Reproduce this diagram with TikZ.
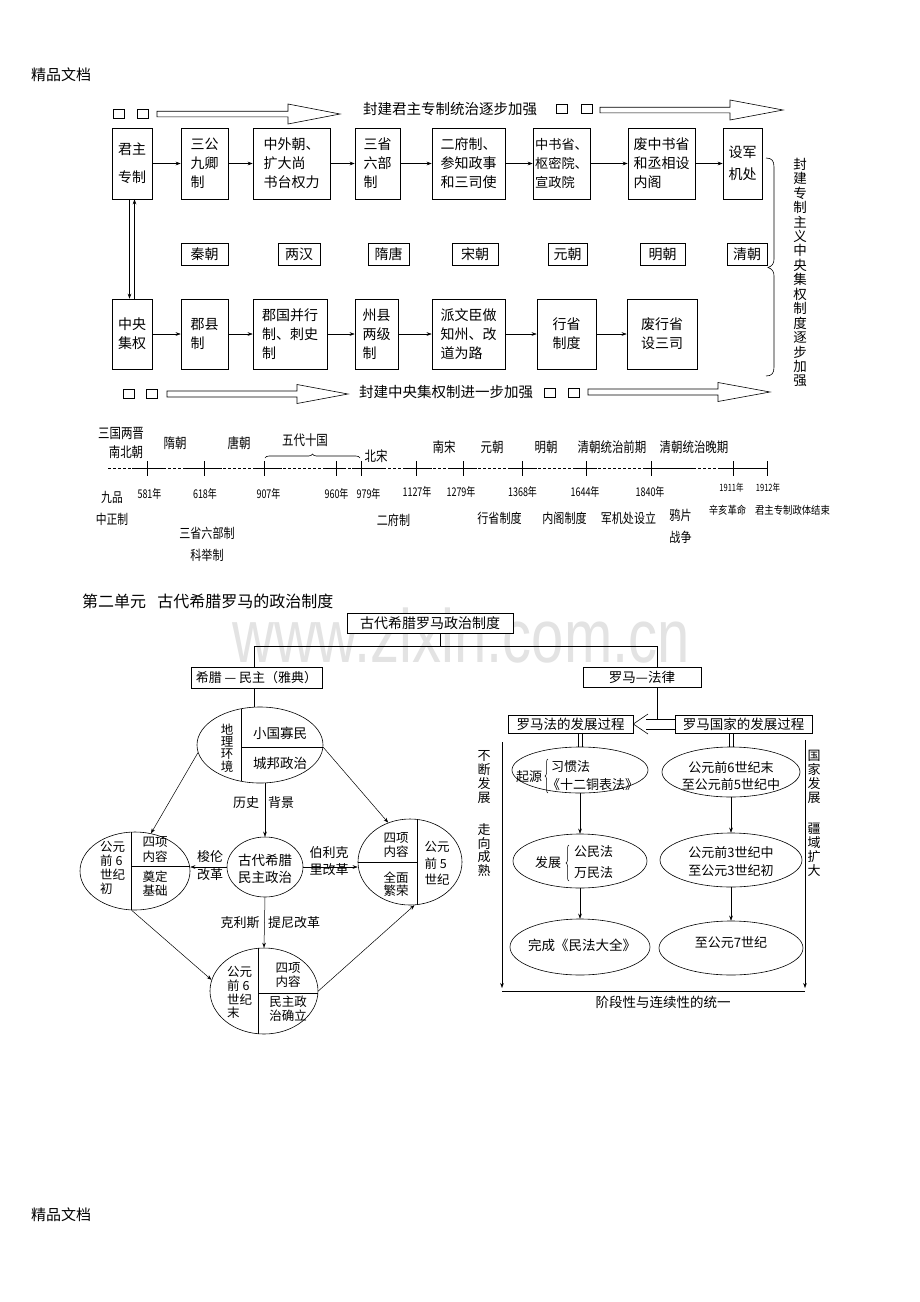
\documentclass[tikz,border=0pt]{standalone}
\usepackage{fontspec}
\setmainfont{Noto Sans CJK SC}
\newfontfamily\wmfont{Liberation Sans}
\usetikzlibrary{arrows.meta,decorations.pathreplacing,shapes.geometric}
\newcommand\myfs[2]{\fontsize{#1}{#2}\selectfont}
\newcommand\cnd[2][0.82]{\scalebox{#1}[1]{#2}}
\begin{document}
\begin{tikzpicture}[x=1pt,y=-1pt,
  box/.style={draw,line width=0.6pt,inner sep=0pt,align=left,font=\myfs{14}{19}},
  dyn/.style={draw,line width=0.6pt,inner sep=0pt,minimum height=22,font=\myfs{14}{16}},
  arr/.style={line width=0.5pt,-{Stealth[length=5pt,width=3.6pt]}},
  ln/.style={line width=0.6pt},
  tl/.style={font=\myfs{14}{15},inner sep=0pt},
  tlb/.style={font=\myfs{13.5}{22},inner sep=0pt,align=center},
  yr/.style={font=\myfs{12}{12},inner sep=0pt},
  lbl/.style={font=\myfs{13}{15},inner sep=0pt},
  ell/.style={draw,ellipse,line width=0.6pt,inner sep=0pt},
  sq/.style={draw,line width=0.5pt,minimum width=11,minimum height=9,inner sep=0pt},
  vt/.style={align=center,inner sep=0pt,font=\myfs{13}{14}},
  rbox/.style={draw,line width=0.6pt,inner sep=0pt,font=\myfs{13.5}{15}},
]
\fill[white] (0,0) rectangle (920,1302);
\useasboundingbox (0,0) rectangle (920,1302);

% watermark
\node[text=black!11,font=\wmfont\fontsize{58}{58}\selectfont,inner sep=0pt] (wmk) at (461,636) {\scalebox{1}[1.3]{www.zixin.com.cn}};

% header / footer
\node[font=\myfs{15}{17},inner sep=0pt] (hdr) at (61,75) {精品文档};
\node[font=\myfs{15}{17},inner sep=0pt] (ftr) at (61,1215) {精品文档};

% ===== top hollow arrows =====
\node[sq] (sqa1) at (119,114) {};
\node[sq] (sqa2) at (143,114) {};
\draw[ln] (157,111.2) -- (288,111.2) -- (288,104) -- (340,114) -- (288,124) -- (288,116.8) -- (157,116.8) -- cycle;
\node[font=\myfs{14.5}{16},inner sep=0pt] (toptxt) at (450,109) {封建君主专制统治逐步加强};
\node[sq] (sqa3) at (562,109) {};
\node[sq] (sqa4) at (587,109) {};
\draw[ln] (600,107.2) -- (730,107.2) -- (730,100) -- (783,110) -- (730,120) -- (730,112.8) -- (600,112.8) -- cycle;

% ===== top row =====
\node[box,minimum width=40,minimum height=71] (t1) at (132,163.5) {君主\\[9pt]专制};
\node[box,minimum width=47,minimum height=71] (t2) at (204.5,163.5) {三公\\九卿\\制};
\node[box,minimum width=77,minimum height=71] (t3) at (291.5,163.5) {中外朝、\\扩大尚\\书台权力};
\node[box,minimum width=45,minimum height=71] (t4) at (377.5,163.5) {三省\\六部\\制};
\node[box,minimum width=73,minimum height=71] (t5) at (468.5,163.5) {二府制、\\参知政事\\和三司使};
\node[box,minimum width=57,minimum height=71,font=\myfs{13.2}{19}] (t6) at (561.5,163.5) {中书省、\\枢密院、\\宣政院};
\node[box,minimum width=67,minimum height=71] (t7) at (661.5,163.5) {废中书省\\和丞相设\\内阁};
\node[box,minimum width=39,minimum height=71] (t8) at (742.5,163.5) {设军\\[3pt]机处};
\foreach \a/\b in {t1/t2,t2/t3,t3/t4,t4/t5,t5/t6,t6/t7,t7/t8}
  \draw[arr] (\a.east) -- (\b.west);

% ===== dynasty row =====
\node[dyn,minimum width=47] (d1) at (204.5,254) {秦朝};
\node[dyn,minimum width=42] (d2) at (299,254) {两汉};
\node[dyn,minimum width=41] (d3) at (388.5,254) {隋唐};
\node[dyn,minimum width=46] (d4) at (475,254) {宋朝};
\node[dyn,minimum width=39] (d5) at (567.5,254) {元朝};
\node[dyn,minimum width=45] (d6) at (662.5,254) {明朝};
\node[dyn,minimum width=40] (d7) at (747,254) {清朝};

% ===== bottom row =====
\node[box,minimum width=40,minimum height=70] (b1) at (132,334) {中央\\集权};
\node[box,minimum width=47,minimum height=70] (b2) at (204.5,334) {郡县\\制};
\node[box,minimum width=74,minimum height=70] (b3) at (290,334) {郡国并行\\制、刺史\\制};
\node[box,minimum width=43,minimum height=70] (b4) at (376.5,334) {州县\\两级\\制};
\node[box,minimum width=73,minimum height=70] (b5) at (468.5,334) {派文臣做\\知州、改\\道为路};
\node[box,minimum width=59,minimum height=70] (b6) at (566.5,334) {行省\\制度};
\node[box,minimum width=70,minimum height=70] (b7) at (662,334) {废行省\\设三司};
\foreach \a/\b in {b1/b2,b2/b3,b3/b4,b4/b5,b5/b6,b6/b7}
  \draw[arr] (\a.east) -- (\b.west);

% double arrows between t1 and b1
\draw[arr] ([xshift=-2.5pt]t1.south) -- ([xshift=-2.5pt]b1.north);
\draw[arr] ([xshift=2.5pt]b1.north) -- ([xshift=2.5pt]t1.south);

% ===== bottom hollow arrows =====
\node[sq] (sqb1) at (129,393.5) {};
\node[sq] (sqb2) at (152,393.5) {};
\draw[ln] (167,391) -- (297,391) -- (297,384.5) -- (348,394) -- (297,403.5) -- (297,397) -- (167,397) -- cycle;
\node[font=\myfs{14.5}{16},inner sep=0pt] (bottxt) at (446,392) {封建中央集权制进一步加强};
\node[sq] (sqb3) at (550,392.5) {};
\node[sq] (sqb4) at (574,392.5) {};
\draw[ln] (588,389) -- (718,389) -- (718,382.5) -- (770,392) -- (718,401.5) -- (718,395) -- (588,395) -- cycle;

% ===== right brace =====
\draw[ln] (766,158) .. controls (772,158) and (774,161) .. (774,167) -- (774,259)
  .. controls (774,264) and (772,266) .. (768,267.5) .. controls (772,269) and (774,271) .. (774,276)
  -- (774,367) .. controls (774,373) and (772,376) .. (766,376);
\node[vt,font=\myfs{13.5}{14.45}] (vtxt) at (800,272.5) {封\\建\\专\\制\\主\\义\\中\\央\\集\\权\\制\\度\\逐\\步\\加\\强};

% ===== timeline =====
\draw[ln,dash pattern=on 3pt off 2pt] (108,468) -- (767,468);
\foreach \a/\b in {132/165,185/222,255/282,325/345,352/385,405/432,450/477,510/537,573/597,643/693,720/767}
  \draw[ln] (\a,468) -- (\b,468);
\foreach \x in {147,204,264,336,361,416,463,522,586,651,733,767}
  \draw[ln] (\x,461) -- (\x,476);
\draw[ln,decorate,decoration={brace,amplitude=4pt}] (265,458) -- (360,458);

\node[tl] (tla) at (121,433) {\cnd{三国两晋}};
\node[tl] (tlb) at (126,452) {\cnd{南北朝}};
\node[tl] (tlc) at (175,443) {\cnd{隋朝}};
\node[tl] (tld) at (239,443) {\cnd{唐朝}};
\node[tl] (tle) at (305,440) {\cnd{五代十国}};
\node[tl] (tlf) at (376,456) {\cnd{北宋}};
\node[tl] (tlg) at (444,447) {\cnd{南宋}};
\node[tl] (tlh) at (492,447) {\cnd{元朝}};
\node[tl] (tli) at (546,447) {\cnd{明朝}};
\node[tl] (tlj) at (612,447) {\cnd{清朝统治前期}};
\node[tl] (tlk) at (694,447) {\cnd{清朝统治晚期}};

\node[yr] (y1) at (149.5,494) {\cnd[0.75]{581年}};
\node[yr] (y2) at (205,494) {\cnd[0.75]{618年}};
\node[yr] (y3) at (268.5,494) {\cnd[0.75]{907年}};
\node[yr] (y4) at (336.5,494) {\cnd[0.75]{960年}};
\node[yr] (y5) at (368.5,494) {\cnd[0.75]{979年}};
\node[yr] (y6) at (417,492) {\cnd[0.75]{1127年}};
\node[yr] (y7) at (461,492) {\cnd[0.75]{1279年}};
\node[yr] (y8) at (522.5,492) {\cnd[0.75]{1368年}};
\node[yr] (y9) at (585,492) {\cnd[0.75]{1644年}};
\node[yr] (y10) at (650,492) {\cnd[0.75]{1840年}};
\node[yr,font=\myfs{10}{11}] (y11) at (731.5,488) {\cnd[0.75]{1911年}};
\node[yr,font=\myfs{10}{11}] (y12) at (768,488) {\cnd[0.75]{1912年}};

\node[tlb] (e1) at (112,508.5) {\cnd[0.8]{九品}\\\cnd[0.8]{中正制}};
\node[tlb] (e2) at (207,544) {\cnd{三省六部制}\\\cnd{科举制}};
\node[tl,font=\myfs{13.5}{14}] (e3) at (393.5,520) {\cnd{二府制}};
\node[tl,font=\myfs{13.5}{14}] (e4) at (499.5,518) {\cnd{行省制度}};
\node[tl,font=\myfs{13.5}{14}] (e5) at (564.5,518) {\cnd{内阁制度}};
\node[tl,font=\myfs{13.5}{14}] (e6) at (628.5,518) {\cnd{军机处设立}};
\node[tlb] (e7) at (680.5,526) {\cnd{鸦片}\\\cnd{战争}};
\node[tl,font=\myfs{11}{12}] (e8) at (727.5,510) {\cnd[0.85]{辛亥革命}};
\node[tl,font=\myfs{11}{12}] (e9) at (792.5,510) {\cnd[0.85]{君主专制政体结束}};

% ===== unit 2 =====
\node[font=\myfs{16}{18},inner sep=0pt,anchor=west] (unit) at (82,601) {第二单元\hspace{0.7em}古代希腊罗马的政治制度};
\node[rbox,font=\myfs{14}{15},minimum width=166,minimum height=20,fill=white] (title) at (430,623) {古代希腊罗马政治制度};
\node[rbox,font=\myfs{13}{15},minimum width=131,minimum height=21] (greece) at (256.5,677.5) {希腊 — 民主（雅典）};
\node[rbox,minimum width=118,minimum height=20] (roma) at (642,677) {罗马—法律};
\coordinate (jA) at (440,646);
\coordinate (jL) at (254,646);
\coordinate (jR) at (657,646);
\draw[ln] (title.south -| jA) -- (jA);
\draw[ln] (greece.north -| jL) -- (jL) -- (jR) -- (roma.north -| jR);

% Greek ellipses
\node[ell,minimum width=126,minimum height=76] (topE) at (260,745) {};
\draw[ln] (241,708.8) -- (241,781.2);
\draw[ln] (241,747) -- (322.9,747);
\node[vt,font=\myfs{12.5}{12.3}] (geo) at (227,748) {地\\理\\环\\境};
\node[lbl,font=\myfs{13.5}{15}] (xg) at (280,733) {小国寡民};
\node[lbl,font=\myfs{13.5}{15}] (cb) at (280,763) {城邦政治};
\draw[ln] (greece.south -| jL) -- (jL |- topE.north);

\node[ell,minimum width=110,minimum height=78] (leftE) at (135,871) {};
\draw[ln] (131,832.1) -- (131,909.9);
\draw[ln] (131,866) -- (189.5,866);
\node[lbl,font=\myfs{12.5}{14},align=left,anchor=west] (lt1) at (100,868) {公元\\前 6\\世纪\\初};
\node[lbl,font=\myfs{12.5}{14.5},align=center] (lt2) at (155,849.5) {四项\\内容};
\node[lbl,font=\myfs{12.5}{13.5},align=center] (lt3) at (155,883.5) {奠定\\基础};

\node[ell,minimum width=76,minimum height=60] (cenE) at (265,867) {};
\node[lbl,font=\myfs{13.5}{17},align=center] (ct) at (265,868.5) {古代希腊\\民主政治};

\node[ell,minimum width=104,minimum height=86] (rightE) at (410,862) {};
\draw[ln] (417,819.4) -- (417,904.6);
\draw[ln] (358,862) -- (417,862);
\node[lbl,font=\myfs{12.5}{14},align=center] (rt1) at (396,845) {四项\\内容};
\node[lbl,font=\myfs{12.5}{13},align=center] (rt2) at (396,884) {全面\\繁荣};
\node[lbl,font=\myfs{12.5}{16.5},align=left] (rt3) at (437,863.5) {公元\\前 5\\世纪};

\node[ell,minimum width=108,minimum height=86] (botE) at (264,991) {};
\draw[ln] (258,948.3) -- (258,1033.7);
\draw[ln] (258,993) -- (317.9,993);
\node[lbl,font=\myfs{12.5}{13.8},align=left,anchor=west] (bt1) at (227,992.5) {公元\\前 6\\世纪\\末};
\node[lbl,font=\myfs{12.5}{14},align=center] (bt2) at (288,975) {四项\\内容};
\node[lbl,font=\myfs{12.5}{13.5},align=center] (bt3) at (288,1008.5) {民主政\\治确立};

% Greek arrows
\draw[arr] (topE.south -| cenE.north) -- (cenE.north);
\draw[arr] (topE.187) -- (leftE.67);
\draw[arr] (topE.-2) -- (rightE.119);
\draw[arr] (cenE.west) -- (cenE.west -| leftE.east);
\draw[arr] (cenE.east) -- (cenE.east -| rightE.west);
\draw[arr] (cenE.south) -- (botE.north);
\draw[arr] (leftE.-95) -- (botE.168);
\draw[arr] (botE.0) -- (rightE.-84);

\node[lbl] (ls1) at (246,803) {历史};
\node[lbl] (ls2) at (281,803) {背景};
\node[lbl,align=center,font=\myfs{13}{18}] (ls3) at (210,866) {梭伦\\改革};
\node[lbl,align=center,font=\myfs{13}{17}] (ls4) at (329,861.5) {伯利克\\里改革};
\node[lbl] (ls5) at (240,923) {克利斯};
\node[lbl] (ls6) at (294,923) {提尼改革};

% ===== Roman part =====
\node[rbox,minimum width=125,minimum height=18] (rlaw) at (570.5,724) {罗马法的发展过程};
\node[rbox,minimum width=137,minimum height=18] (rstate) at (743.5,724) {罗马国家的发展过程};
\coordinate (jM) at (657,719);
\draw[ln] (roma.south -| jM) -- (jM);
\coordinate (h1) at (646,719);
\coordinate (h2) at (646,729);
\draw[ln] (rstate.west |- h1) -- (h1);
\draw[ln] (rstate.west |- h2) -- (h2);
\draw[ln] (648,714) -- (rlaw.east) -- (648,734);

\node[ell,minimum width=136,minimum height=46] (L1) at (580,770) {};
\node[ell,minimum width=134,minimum height=54] (L2) at (580,861) {};
\node[ell,minimum width=140,minimum height=56] (L3) at (580,947) {};
\node[ell,minimum width=138,minimum height=50] (R1) at (731,772) {};
\node[ell,minimum width=142,minimum height=54] (R2) at (731,860) {};
\node[ell,minimum width=144,minimum height=54] (R3) at (731,948) {};

\path (L1.north |- rlaw.south) coordinate (dl1);
\draw[ln] ([xshift=-2pt]dl1) -- ([xshift=-2pt]L1.north);
\draw[ln] ([xshift=2pt]dl1) -- ([xshift=2pt]L1.north);
\path (R1.north |- rstate.south) coordinate (dr1);
\draw[ln] ([xshift=-2pt]dr1) -- ([xshift=-2pt]R1.north);
\draw[ln] ([xshift=2pt]dr1) -- ([xshift=2pt]R1.north);

\draw[arr] (L1.south) -- (L2.north);
\draw[arr] (L2.south) -- (L3.north);
\draw[arr] (R1.south) -- (R2.north);
\draw[arr] (R2.south) -- (R3.north);

\node[lbl] (qy) at (529,777) {起源};
\draw[line width=0.5pt,decorate,decoration={brace,amplitude=3pt}] (548,793) -- (548,759);
\node[lbl,anchor=west] (xgf) at (551,767) {习惯法};
\node[lbl,anchor=west] (sebf) at (547,785) {《十二铜表法》};
\node[lbl] (fz) at (548,863) {发展};
\draw[line width=0.5pt,decorate,decoration={brace,amplitude=3pt}] (569,881) -- (569,845);
\node[lbl,anchor=west] (gmf) at (574,852) {公民法};
\node[lbl,anchor=west] (wmf) at (574,873) {万民法};
\node[lbl,font=\myfs{13.5}{15}] (wc) at (582,945) {完成《民法大全》};

\node[lbl,align=center,font=\myfs{13}{17}] (r1t) at (731,776.5) {公元前6世纪末\\至公元前5世纪中};
\node[lbl,align=center,font=\myfs{13}{18}] (r2t) at (731,861.5) {公元前3世纪中\\至公元3世纪初};
\node[lbl] (r3t) at (731,943) {至公元7世纪};

\coordinate (sl1) at (502,742);
\coordinate (sl2) at (502,988);
\coordinate (sr1) at (805,740);
\coordinate (sr2) at (805,988);
\draw[arr] (sl1) -- (sl2);
\draw[arr] (sr1) -- (sr2);
\draw[ln] (sl2 |- 0,991) -- (sr2 |- 0,991);
\node[lbl,font=\myfs{13.5}{15}] (unity) at (663,1002) {阶段性与连续性的统一};

\node[vt,font=\myfs{13}{13.8}] (s1) at (484,777) {不\\断\\发\\展};
\node[vt,font=\myfs{13}{13.8}] (s2) at (484,850) {走\\向\\成\\熟};
\node[vt,font=\myfs{13}{13.8}] (s3) at (814,777) {国\\家\\发\\展};
\node[vt,font=\myfs{13}{13.8}] (s4) at (814,850) {疆\\域\\扩\\大};
\end{tikzpicture}
\end{document}
